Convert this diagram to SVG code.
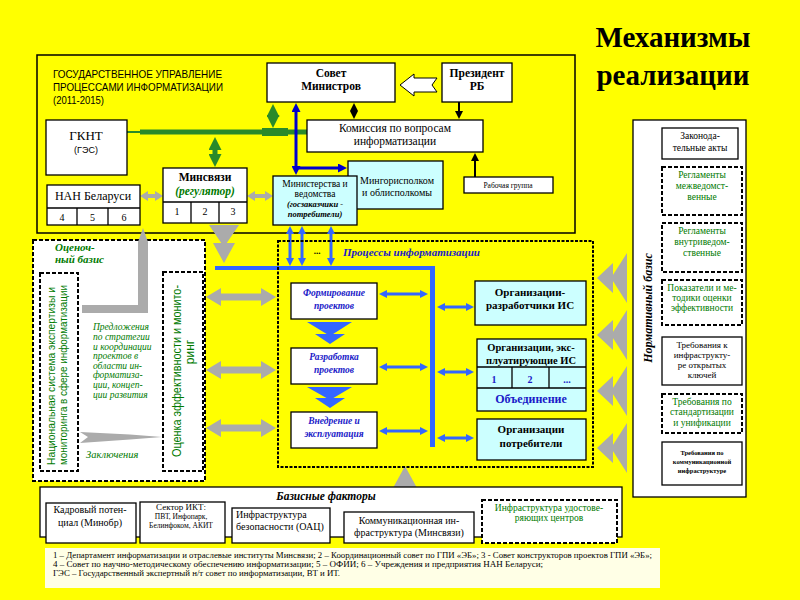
<svg xmlns="http://www.w3.org/2000/svg" width="800" height="600" viewBox="0 0 800 600">
<defs>
<style>
.bx{fill:#fff;stroke:#000;stroke-width:1.3}
.cy{fill:#CCFFFF;stroke:#000;stroke-width:1.3}
.ds{fill:#fff;stroke:#000;stroke-width:2;stroke-dasharray:4 2}
.ln{stroke:#000;stroke-width:1.3}
text{font-family:'Liberation Serif','DejaVu Serif',serif;fill:#000}
.sa{font-family:'Liberation Sans','DejaVu Sans',sans-serif}
.m{text-anchor:middle}
.b{font-weight:bold}
.i{font-style:italic}
.g{fill:#007A00}
.bl{fill:#1A1AC8}
.gr{fill:#ABABAB}
.gl{stroke:#2A8A2A;fill:none}
.dbl{stroke:#0000CC;stroke-width:3;fill:none}
.lbl{stroke:#3366FF;stroke-width:3;fill:none}
.blk{stroke:#000;stroke-width:2;fill:none}
</style>
<marker id="ag" viewBox="0 0 10 10" refX="5" refY="5" markerWidth="13" markerHeight="13" markerUnits="userSpaceOnUse" orient="auto-start-reverse"><path d="M0,0L10,5L0,10Z" fill="#2A8A2A"/></marker>
<marker id="ad" viewBox="0 0 10 10" refX="5" refY="5" markerWidth="9" markerHeight="9" markerUnits="userSpaceOnUse" orient="auto-start-reverse"><path d="M0,0L10,5L0,10Z" fill="#0000CC"/></marker>
<marker id="al" viewBox="0 0 10 10" refX="5" refY="5" markerWidth="8" markerHeight="8" markerUnits="userSpaceOnUse" orient="auto-start-reverse"><path d="M0,0L10,5L0,10Z" fill="#3366FF"/></marker>
<marker id="ak" viewBox="0 0 10 10" refX="5" refY="5" markerWidth="8" markerHeight="8" markerUnits="userSpaceOnUse" orient="auto-start-reverse"><path d="M0,0L10,5L0,10Z" fill="#000"/></marker>
<path id="gd" d="M0,0L15,-9L15,-3.5L55,-3.5L55,-9L70,0L55,9L55,3.5L15,3.5L15,9Z"/>
<path id="gds" d="M0,0L8,-5L8,-2L18,-2L18,-5L26,0L18,5L18,2L8,2L8,5Z"/>
<path id="chev" d="M0,0L16,-15L16,15Z M14,0L30,-25L30,25Z"/>
</defs>

<rect width="800" height="600" fill="#FFFF00"/>

<g id="title">
<text x="673" y="47" class="m b" font-size="29">Механизмы</text>
<text x="673" y="85" class="m b" font-size="29">реализации</text>
</g>

<g id="gos-upr">
<rect x="37" y="55" width="538" height="178" fill="none" stroke="#000" stroke-width="1.5"/>
<text class="sa" x="53" y="78" font-size="11" textLength="169" lengthAdjust="spacingAndGlyphs">ГОСУДАРСТВЕННОЕ УПРАВЛЕНИЕ</text>
<text class="sa" x="53" y="91" font-size="11" textLength="170" lengthAdjust="spacingAndGlyphs">ПРОЦЕССАМИ ИНФОРМАТИЗАЦИИ</text>
<text class="sa" x="53" y="104" font-size="11" textLength="51" lengthAdjust="spacingAndGlyphs">(2011-2015)</text>
</g>

<g id="connectors">
<line x1="127" y1="132" x2="142" y2="132" class="gl" stroke-width="2"/>
<line x1="140" y1="132" x2="307" y2="132" class="gl" stroke-width="5"/>
<rect x="262" y="128" width="26" height="8" fill="#2A8A2A"/>
<line x1="215" y1="143.5" x2="215" y2="160.5" class="gl" stroke-width="5" marker-start="url(#ag)" marker-end="url(#ag)"/>
<line x1="273" y1="110.5" x2="273" y2="121.5" class="gl" stroke-width="5" marker-start="url(#ag)" marker-end="url(#ag)"/>
<line x1="296" y1="107.5" x2="296" y2="170.5" class="dbl" marker-start="url(#ad)" marker-end="url(#ad)"/>
<line x1="296" y1="168" x2="342.5" y2="168" class="dbl" marker-end="url(#ad)"/>
<line x1="354" y1="107" x2="354" y2="115" class="blk" marker-start="url(#ak)" marker-end="url(#ak)"/>
<line x1="459" y1="102" x2="459" y2="115" class="blk" marker-end="url(#ak)"/>
<line x1="475" y1="177" x2="475" y2="157" class="blk" marker-end="url(#ak)"/>
<path d="M400,85L414,74L414,78L437,78L432,85L437,92L414,92L414,96Z" fill="#fff" stroke="#000" stroke-width="1"/>
<path class="gr" d="M140,196L148,191L148,194L155,194L155,191L163,196L155,201L155,198L148,198L148,201Z"/>
<use href="#gds" class="gr" transform="translate(247,196)"/>
<path class="gr" d="M209,225L239,225L224,247Z M213,243L235,243L224,263Z"/>
<line x1="215" y1="268" x2="434" y2="268" stroke="#3366FF" stroke-width="4"/>
<line x1="432.5" y1="266" x2="432.5" y2="447" stroke="#3366FF" stroke-width="5"/>
<line x1="290" y1="230" x2="290" y2="262" class="lbl" marker-start="url(#al)" marker-end="url(#al)"/>
<line x1="302" y1="230" x2="302" y2="262" class="lbl" marker-start="url(#al)" marker-end="url(#al)"/>
<line x1="331" y1="230" x2="331" y2="262" class="lbl" marker-start="url(#al)" marker-end="url(#al)"/>
<text x="317" y="254" class="m b" font-size="9">...</text>
<line x1="383" y1="294" x2="424" y2="294" class="lbl" marker-start="url(#al)" marker-end="url(#al)"/>
<line x1="383" y1="367" x2="424" y2="367" class="lbl" marker-start="url(#al)" marker-end="url(#al)"/>
<line x1="383" y1="431" x2="424" y2="431" class="lbl" marker-start="url(#al)" marker-end="url(#al)"/>
<line x1="441" y1="307" x2="470" y2="307" class="lbl" marker-start="url(#al)" marker-end="url(#al)"/>
<line x1="441" y1="372" x2="470" y2="372" class="lbl" marker-start="url(#al)" marker-end="url(#al)"/>
<line x1="441" y1="438" x2="470" y2="438" class="lbl" marker-start="url(#al)" marker-end="url(#al)"/>
<use href="#gd" class="gr" transform="translate(206,297)"/>
<use href="#gd" class="gr" transform="translate(206,370)"/>
<use href="#gd" class="gr" transform="translate(206,428)"/>
<use href="#chev" class="gr" transform="translate(597,278)"/>
<use href="#chev" class="gr" transform="translate(597,335)"/>
<use href="#chev" class="gr" transform="translate(597,391)"/>
<use href="#chev" class="gr" transform="translate(597,448)"/>
<path class="gr" d="M405,466L393,488L417,488Z"/>
</g>

<g id="gknt">
<rect class="bx" x="46" y="120" width="81" height="55"/>
<text x="86" y="140" class="m" font-size="13">ГКНТ</text>
<text x="86" y="153" class="m sa" font-size="9">(ГЭС)</text>
</g>

<g id="nan">
<rect class="bx" x="47" y="185" width="93" height="40"/>
<line class="ln" x1="47" y1="208" x2="140" y2="208"/>
<line class="ln" x1="77" y1="208" x2="77" y2="225"/>
<line class="ln" x1="108" y1="208" x2="108" y2="225"/>
<text x="93" y="200" class="m" font-size="12">НАН Беларуси</text>
<text x="62" y="221" class="m" font-size="10">4</text>
<text x="92.5" y="221" class="m" font-size="10">5</text>
<text x="124" y="221" class="m" font-size="10">6</text>
</g>

<g id="minsvyazi">
<rect class="bx" x="163" y="168" width="84" height="55"/>
<line class="ln" x1="163" y1="202" x2="247" y2="202"/>
<line class="ln" x1="191" y1="202" x2="191" y2="223"/>
<line class="ln" x1="219" y1="202" x2="219" y2="223"/>
<text x="205" y="181" class="m b" font-size="11.5">Минсвязи</text>
<text x="205" y="195" class="m b i g" font-size="11.5">(регулятор)</text>
<text x="177" y="215" class="m" font-size="10">1</text>
<text x="205" y="215" class="m" font-size="10">2</text>
<text x="233" y="215" class="m" font-size="10">3</text>
</g>

<g id="sovet">
<rect class="bx" x="267" y="63" width="128" height="39"/>
<text x="331" y="77" class="m b" font-size="11.5">Совет</text>
<text x="331" y="90" class="m b" font-size="11.5">Министров</text>
</g>

<g id="president">
<rect class="bx" x="442" y="63" width="70" height="39"/>
<text x="477" y="77" class="m b" font-size="11.5">Президент</text>
<text x="477" y="90" class="m b" font-size="11.5">РБ</text>
</g>

<g id="komissia">
<rect class="bx" x="307" y="120" width="176" height="32"/>
<text x="395" y="132" class="m" font-size="11.5">Комиссия по вопросам</text>
<text x="395" y="145" class="m" font-size="11.5">информатизации</text>
</g>

<g id="rabgruppa">
<rect class="bx" x="464" y="177" width="89" height="16"/>
<text x="508" y="188" class="m" font-size="7.5">Рабочая группа</text>
</g>

<g id="mingor">
<rect class="cy" x="348" y="161" width="95" height="48"/>
<text x="397" y="184" class="m" font-size="10">Мингорисполком</text>
<text x="397" y="196" class="m" font-size="10">и облисполкомы</text>
</g>

<g id="ministerstva">
<rect class="cy" x="273" y="176" width="84" height="49"/>
<text x="315" y="187" class="m" font-size="9.5">Министерства и</text>
<text x="315" y="197" class="m" font-size="9.5">ведомства</text>
<text x="315" y="207" class="m b i" font-size="8.5">(госзаказчики -</text>
<text x="315" y="217" class="m b i" font-size="8.5">потребители)</text>
</g>

<g id="ocenochny">
<rect class="ds" x="33" y="240" width="172" height="241"/>
<text x="55" y="251" class="b i g" font-size="11">Оценоч-</text>
<text x="55" y="263" class="b i g" font-size="11">ный базис</text>
<path class="gr" d="M143,228L148,242L148,313L82,313L82,305L138,305L138,242Z"/>
<path class="gr" d="M80,432L130,434.5L162,437L130,439.5L80,443L88,437Z"/>
<text class="i g" x="86" y="458" font-size="10.5">Заключения</text>
<text class="i g" font-size="9.5" x="93">
<tspan x="93" y="330">Предложения</tspan>
<tspan x="93" y="340">по стратегии</tspan>
<tspan x="93" y="349.5">и координации</tspan>
<tspan x="93" y="359">проектов в</tspan>
<tspan x="93" y="368.5">области ин-</tspan>
<tspan x="93" y="378">форматиза-</tspan>
<tspan x="93" y="388">ции, концеп-</tspan>
<tspan x="93" y="398">ции развития</tspan>
</text>
</g>

<g id="nacsistema">
<rect class="ds" x="40" y="273" width="38" height="198"/>
<text class="sa m g" font-size="11" transform="translate(55,376) rotate(-90)" textLength="178" lengthAdjust="spacingAndGlyphs">Национальная система экспертизы и</text>
<text class="sa m g" font-size="11" transform="translate(67,375) rotate(-90)" textLength="180" lengthAdjust="spacingAndGlyphs">мониторинга в сфере информатизации</text>
</g>

<g id="ocenka">
<rect class="ds" x="163" y="272" width="40" height="199"/>
<text class="sa m g" font-size="12" transform="translate(181,371) rotate(-90)" textLength="172" lengthAdjust="spacingAndGlyphs">Оценка эффективности и монито-</text>
<text class="sa m g" font-size="12" transform="translate(194,352) rotate(-90)">ринг</text>
</g>

<g id="processy">
<rect x="278" y="241" width="315" height="226" fill="none" stroke="#000" stroke-width="2" stroke-dasharray="3 1.5"/>
<text x="343" y="256" class="b i bl" font-size="11">Процессы информатизации</text>
</g>

<g id="formirovanie">
<rect class="bx" x="291" y="283" width="86" height="36"/>
<text x="334" y="296" class="m b i bl" font-size="9.5">Формирование</text>
<text x="334" y="309" class="m b i bl" font-size="9.5">проектов</text>
</g>
<g id="razrabotka">
<rect class="bx" x="291" y="348" width="86" height="36"/>
<text x="334" y="360" class="m b i bl" font-size="9.5">Разработка</text>
<text x="334" y="373" class="m b i bl" font-size="9.5">проектов</text>
</g>
<g id="vnedrenie">
<rect class="bx" x="291" y="412" width="86" height="36"/>
<text x="334" y="424" class="m b i bl" font-size="9.5">Внедрение и</text>
<text x="334" y="437" class="m b i bl" font-size="9.5">эксплуатация</text>
</g>
<g id="proc-chevrons">
<path fill="#3366FF" d="M307,322L352,322L330,336Z M315,334L345,334L330,344Z"/>
<path fill="#3366FF" d="M307,387L352,387L330,400Z M315,398L345,398L330,408Z"/>
</g>

<g id="razrabotchiki">
<rect class="cy" x="475" y="281" width="111" height="44"/>
<text x="530" y="296" class="m b" font-size="11">Организации-</text>
<text x="530" y="309" class="m b" font-size="11">разработчики ИС</text>
</g>
<g id="ekspluatiruyushchie">
<rect class="cy" x="477" y="339" width="109" height="72"/>
<line class="ln" x1="477" y1="367" x2="586" y2="367"/>
<line class="ln" x1="477" y1="388" x2="586" y2="388"/>
<line class="ln" x1="512" y1="367" x2="512" y2="388"/>
<line class="ln" x1="549" y1="367" x2="549" y2="388"/>
<text x="531" y="351" class="m b" font-size="10.5">Организации, экс-</text>
<text x="531" y="364" class="m b" font-size="10.5">плуатирующие ИС</text>
<text x="494" y="383" class="m b bl" font-size="10">1</text>
<text x="530" y="383" class="m b bl" font-size="10">2</text>
<text x="567" y="383" class="m b bl" font-size="10">...</text>
<text x="531" y="403" class="m b bl" font-size="12">Объединение</text>
</g>
<g id="potrebiteli">
<rect class="cy" x="477" y="419" width="109" height="41"/>
<text x="531" y="433" class="m b" font-size="11">Организации</text>
<text x="531" y="447" class="m b" font-size="11">потребители</text>
</g>

<g id="normbaza">
<rect class="bx" x="633" y="120" width="113" height="377"/>
<text class="b i" font-size="12" transform="translate(652,308) rotate(-90)" text-anchor="middle">Нормативный базис</text>
</g>
<g id="zakony">
<rect class="bx" x="662" y="128" width="76" height="31"/>
<text x="700" y="139" class="m" font-size="9.5">Законода-</text>
<text x="700" y="151" class="m" font-size="9.5">тельные акты</text>
</g>
<g id="regl-mezh">
<rect class="ds" x="662" y="167" width="80" height="48"/>
<text x="702" y="178" class="m g" font-size="9.5">Регламенты</text>
<text x="702" y="189" class="m g" font-size="9.5">межведомст-</text>
<text x="702" y="200" class="m g" font-size="9.5">венные</text>
</g>
<g id="regl-vnutr">
<rect class="ds" x="662" y="223" width="80" height="49"/>
<text x="702" y="234" class="m g" font-size="9.5">Регламенты</text>
<text x="702" y="245" class="m g" font-size="9.5">внутриведом-</text>
<text x="702" y="256" class="m g" font-size="9.5">ственные</text>
</g>
<g id="pokazateli">
<rect class="ds" x="662" y="280" width="80" height="45"/>
<text x="702" y="291" class="m g" font-size="9.5">Показатели и ме-</text>
<text x="702" y="301" class="m g" font-size="9.5">тодики оценки</text>
<text x="702" y="311" class="m g" font-size="9.5">эффективности</text>
</g>
<g id="treb-kluchi">
<rect class="bx" x="662" y="337" width="80" height="48"/>
<text x="702" y="348" class="m" font-size="9">Требования к</text>
<text x="702" y="358" class="m" font-size="9">инфраструкту-</text>
<text x="702" y="368" class="m" font-size="9">ре открытых</text>
<text x="702" y="378" class="m" font-size="9">ключей</text>
</g>
<g id="treb-standart">
<rect class="ds" x="662" y="394" width="80" height="39"/>
<text x="702" y="405" class="m g" font-size="9.5">Требования по</text>
<text x="702" y="415" class="m g" font-size="9.5">стандартизации</text>
<text x="702" y="426" class="m g" font-size="9.5">и унификации</text>
</g>
<g id="treb-komm">
<rect class="bx" x="662" y="442" width="80" height="43"/>
<text x="702" y="455" class="m b" font-size="6.5">Требования по</text>
<text x="702" y="464" class="m b" font-size="6.5">коммуникационной</text>
<text x="702" y="473" class="m b" font-size="6.5">инфраструктуре</text>
</g>

<g id="bazisnye">
<rect class="bx" x="40" y="487" width="582" height="50"/>
<text x="326" y="500" class="m b i" font-size="11.5">Базисные факторы</text>
</g>
<g id="kadry">
<rect class="bx" x="46" y="503" width="90" height="40"/>
<text x="90" y="513" class="m" font-size="10">Кадровый потен-</text>
<text x="90" y="526" class="m" font-size="10">циал  (Минобр)</text>
</g>
<g id="sektor-ikt">
<rect class="bx" x="140" y="502" width="85" height="41"/>
<text x="181" y="510" class="m" font-size="9">Сектор ИКТ:</text>
<text x="181" y="519" class="m" font-size="7.5">ПВТ, Инфопарк,</text>
<text x="181" y="528" class="m" font-size="7.5">Белинфоком, АКИТ</text>
</g>
<g id="infra-bez">
<rect class="bx" x="232" y="508" width="98" height="35"/>
<text x="236" y="518" font-size="10">Инфраструктура</text>
<text x="236" y="530" font-size="10">безопасности (ОАЦ)</text>
</g>
<g id="komm-infra">
<rect class="bx" x="344" y="512" width="130" height="31"/>
<text x="409" y="524" class="m" font-size="10">Коммуникационная ин-</text>
<text x="409" y="536" class="m" font-size="10">фраструктура (Минсвязи)</text>
</g>
<g id="udost-centry">
<rect class="ds" x="482" y="500" width="135" height="43"/>
<text x="549" y="511" class="m g" font-size="9.5">Инфраструктура удостове-</text>
<text x="549" y="521" class="m g" font-size="9.5">ряющих  центров</text>
</g>

<g id="footer">
<rect x="45" y="548" width="615" height="40" fill="#FFFFE6"/>
<text x="53" y="558" font-size="9" textLength="599" lengthAdjust="spacingAndGlyphs">1 – Департамент информатизации и отраслевые институты Минсвязи; 2 – Координационный совет по ГПИ «ЭБ»; 3 - Совет конструкторов проектов ГПИ «ЭБ»;</text>
<text x="53" y="567" font-size="9" textLength="490" lengthAdjust="spacingAndGlyphs">4 – Совет по научно-методическому обеспечению информатизации; 5 – ОФИИ; 6 – Учреждения и предприятия НАН Беларуси;</text>
<text x="53" y="576" font-size="9" textLength="287" lengthAdjust="spacingAndGlyphs">ГЭС – Государственный экспертный н/т совет по информатизации, ВТ и ИТ.</text>
</g>
</svg>
